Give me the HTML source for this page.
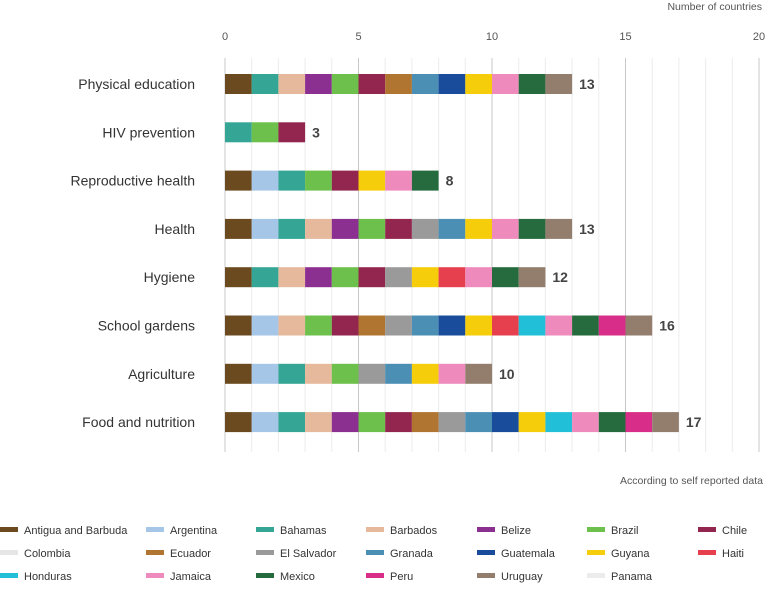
<!DOCTYPE html>
<html><head><meta charset="utf-8"><style>
body{margin:0;background:#fff;font-family:"Liberation Sans",sans-serif;}
svg text{font-family:"Liberation Sans",sans-serif;}
</style></head><body>
<svg id="chart" width="767" height="585" xmlns="http://www.w3.org/2000/svg"></svg>
<script>
const countries=["Antigua and Barbuda","Argentina","Bahamas","Barbados","Belize","Brazil","Chile","Colombia","Ecuador","El Salvador","Granada","Guatemala","Guyana","Haiti","Honduras","Jamaica","Mexico","Peru","Uruguay","Panama"];
const colors=["#6b4a1f","#a6c6e8","#35a696","#e6b99c","#8b2f91","#6dc04b","#93264f","#e6e6e6","#b07530","#9a9a9a","#4b8fb5","#1a4c9c","#f5cd0a","#e6404f","#22c0d8","#ef8abd","#256b3e","#d82d88","#937e6d","#ececec"];
const categories=["Physical education","HIV prevention","Reproductive health","Health","Hygiene","School gardens","Agriculture","Food and nutrition"];
const members=[
["Antigua and Barbuda","Bahamas","Barbados","Belize","Brazil","Chile","Ecuador","Granada","Guatemala","Guyana","Jamaica","Mexico","Uruguay"],
["Bahamas","Brazil","Chile"],
["Antigua and Barbuda","Argentina","Bahamas","Brazil","Chile","Guyana","Jamaica","Mexico"],
["Antigua and Barbuda","Argentina","Bahamas","Barbados","Belize","Brazil","Chile","El Salvador","Granada","Guyana","Jamaica","Mexico","Uruguay"],
["Antigua and Barbuda","Bahamas","Barbados","Belize","Brazil","Chile","El Salvador","Guyana","Haiti","Jamaica","Mexico","Uruguay"],
["Antigua and Barbuda","Argentina","Barbados","Brazil","Chile","Ecuador","El Salvador","Granada","Guatemala","Guyana","Haiti","Honduras","Jamaica","Mexico","Peru","Uruguay"],
["Antigua and Barbuda","Argentina","Bahamas","Barbados","Brazil","El Salvador","Granada","Guyana","Jamaica","Uruguay"],
["Antigua and Barbuda","Argentina","Bahamas","Barbados","Belize","Brazil","Chile","Ecuador","El Salvador","Granada","Guatemala","Guyana","Honduras","Jamaica","Mexico","Peru","Uruguay"]
];
const ticks=[0,5,10,15,20];
const NS="http://www.w3.org/2000/svg";
const svg=document.getElementById("chart");
const x0=225,x1=759,xMax=20;
const x=v=>x0+(x1-x0)*v/xMax;
const y=i=>84+i*48.3;
function el(t,a,txt){const e=document.createElementNS(NS,t);for(const k in a)e.setAttribute(k,a[k]);if(txt!==undefined)e.textContent=txt;svg.appendChild(e);return e;}
let e;
e=el("text",{x:762,y:10,"text-anchor":"end","font-size":10.5,fill:"#555"},"Number of countries");


for(let v=0;v<=xMax;v++){
  e=el("line",{x1:x(v),x2:x(v),y1:58,y2:452,stroke:v%5===0?"#c8c8c8":"#ececec","stroke-width":1});
  
  
}
ticks.forEach(t=>{
  e=el("text",{x:x(t),y:40,"text-anchor":"middle","font-size":11,fill:"#555"},String(t));
  
  
});
categories.forEach((c,i)=>{
  const cy=y(i);
  e=el("text",{x:195,y:cy+5,"text-anchor":"end","font-size":14,fill:"#333"},c);
  
  
  members[i].forEach((m,j)=>{
    e=el("rect",{x:x(j),y:cy-10,width:x(j+1)-x(j),height:20,fill:colors[countries.indexOf(m)]});
    
    
  });
  e=el("text",{x:x(members[i].length)+7,y:cy+5,"font-size":14,"font-weight":"bold",fill:"#444"},String(members[i].length));
  
  
});
e=el("text",{x:763,y:484,"text-anchor":"end","font-size":10.5,fill:"#555"},"According to self reported data");


const lx=[0,146,256,366,477,587,698];
countries.forEach((c,k)=>{
  const col=k%7,row=Math.floor(k/7);
  const ly=530+row*23;
  e=el("rect",{x:lx[col],y:ly-3,width:18,height:5,fill:colors[k]});
  
  
  e=el("text",{x:lx[col]+24,y:ly+4,"font-size":11,fill:"#333"},c);
  
  
});
</script>
</body></html>
